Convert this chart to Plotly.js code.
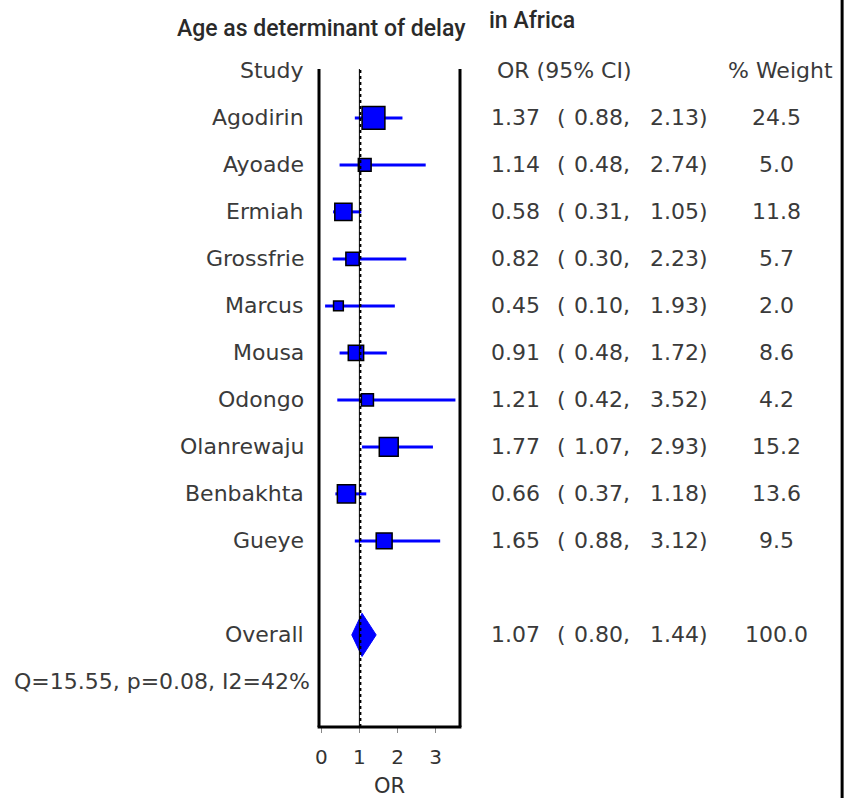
<!DOCTYPE html>
<html>
<head>
<meta charset="utf-8">
<script src="https://cdn.plot.ly/plotly-3.0.1.min.js"></script>
<style>html,body{margin:0;padding:0;background:#fff;}#chart{width:844px;height:798px;}</style>
</head>
<body>
<div id="chart"></div>
<script>
// ---- data ----
const studies = ["Agodirin","Ayoade","Ermiah","Grossfrie","Marcus","Mousa","Odongo","Olanrewaju","Benbakhta","Gueye"];
const orValues = [1.37, 1.14, 0.58, 0.82, 0.45, 0.91, 1.21, 1.77, 0.66, 1.65];
const ciLower  = [0.88, 0.48, 0.31, 0.30, 0.10, 0.48, 0.42, 1.07, 0.37, 0.88];
const ciUpper  = [2.13, 2.74, 1.05, 2.23, 1.93, 1.72, 3.52, 2.93, 1.18, 3.12];
const weights  = [24.5, 5.0, 11.8, 5.7, 2.0, 8.6, 4.2, 15.2, 13.6, 9.5];
const overallLabel = "Overall";
const overallOR = 1.07, overallLower = 0.80, overallUpper = 1.44, overallWeight = 100.0;
const heterogeneity = "Q=15.55, p=0.08, I2=42%";
const xTicks = [0, 1, 2, 3];
const titleMain = "Age as determinant of delay";
const titleSub = "in Africa";

// ---- layout helpers ----
const rowY = i => -(i + 1);          // study rows 1..10
const overallY = -12, hetY = -13;
const txtFont = {family: "DejaVu Sans, Verdana, sans-serif", size: 22, color: "#3a3a3a"};

const ciX = [], ciY = [];
studies.forEach((s, i) => { ciX.push(ciLower[i], ciUpper[i], null); ciY.push(rowY(i), rowY(i), null); });

const traces = [
  {type: "scatter", mode: "lines", x: ciX, y: ciY, line: {color: "#0000ff", width: 3}, hoverinfo: "skip", showlegend: false},
  {type: "scatter", mode: "markers", x: orValues, y: studies.map((s, i) => rowY(i)),
   marker: {symbol: "square", color: "#0000ff", opacity: 1, size: weights.map(w => 4.5 + 3.7 * Math.sqrt(w)), line: {color: "#000", width: 1.5}},
   showlegend: false},
  {type: "scatter", mode: "lines", fill: "toself", fillcolor: "#0000ff",
   x: [overallLower, overallOR, overallUpper, overallOR, overallLower],
   y: [overallY, overallY + 0.46, overallY, overallY - 0.46, overallY],
   line: {color: "#0000ff", width: 1}, showlegend: false}
];

const ann = [];
function addText(text, y, xshift, xanchor, font) {
  ann.push({text: text, xref: "paper", x: 0, xshift: xshift, xanchor: xanchor, yref: "y", y: y, yanchor: "middle",
            showarrow: false, font: font || txtFont});
}
// headers
addText("Study", 0, -13, "right");
addText("OR (95% CI)", 0, 176, "left");
addText("% Weight", 0, 461, "center");
studies.forEach((s, i) => {
  const y = rowY(i);
  addText(s, y, -13, "right");
  addText(orValues[i].toFixed(2), y, 170, "left");
  addText("(", y, 236, "left");
  addText(ciLower[i].toFixed(2) + ",", y, 313, "right");
  addText(ciUpper[i].toFixed(2) + ")", y, 391, "right");
  addText(weights[i].toFixed(1), y, 457, "center");
});
addText(overallLabel, overallY, -13, "right");
addText(overallOR.toFixed(2), overallY, 170, "left");
addText("(", overallY, 236, "left");
addText(overallLower.toFixed(2) + ",", overallY, 313, "right");
addText(overallUpper.toFixed(2) + ")", overallY, 391, "right");
addText(overallWeight.toFixed(1), overallY, 457, "center");
addText(heterogeneity, hetY, -7, "right");

// titles
const titleFont = {family: "Roboto, sans-serif", size: 23, color: "#2a2a2a", weight: 500};
ann.push({text: titleMain, xref: "paper", x: 0, xshift: 2, xanchor: "center", yref: "paper", y: 1, yshift: 41, yanchor: "middle", showarrow: false, font: titleFont});
ann.push({text: titleSub, xref: "paper", x: 0, xshift: 213, xanchor: "center", yref: "paper", y: 1, yshift: 49, yanchor: "middle", showarrow: false, font: titleFont});

const shapes = [
  {type: "line", xref: "paper", yref: "paper", x0: 0, x1: 0, y0: 0, y1: 1, line: {color: "#000", width: 3}},
  {type: "line", xref: "paper", yref: "paper", x0: 1, x1: 1, y0: 0, y1: 1, line: {color: "#000", width: 3}},
  {type: "line", xref: "paper", yref: "paper", x0: -0.01, x1: 1.01, y0: 0, y1: 0, line: {color: "#000", width: 3}},
  {type: "line", xref: "x", yref: "paper", x0: 1, x1: 1, y0: 0, y1: 1, line: {color: "#000", width: 1}},
  {type: "line", xref: "x", xsizemode: "pixel", xanchor: 1, x0: 1, x1: 1, yref: "paper", y0: 0, y1: 1, line: {color: "#000", width: 2, dash: "dot"}},
  {type: "line", xref: "paper", yref: "paper", x0: 3.71, x1: 3.71, y0: -0.12, y1: 1.12, line: {color: "#000", width: 3}}
];

const layout = {
  width: 844, height: 798,
  margin: {l: 319, r: 384, t: 69, b: 71, pad: 0},
  paper_bgcolor: "#fff", plot_bgcolor: "#fff",
  showlegend: false,
  xaxis: {range: [-0.06, 3.64], tickvals: xTicks, ticktext: xTicks.map(String), ticks: "outside", ticklen: 5, tickcolor: "#888",
          tickwidth: 1, showgrid: false, zeroline: false, showline: false, ticklabelstandoff: 7,
          tickfont: {family: "DejaVu Sans, sans-serif", size: 20, color: "#333"},
          title: {text: "OR", font: {family: "DejaVu Sans, sans-serif", size: 21, color: "#333"}, standoff: 10}},
  yaxis: {range: [-13.96, 0.04], showgrid: false, zeroline: false, showline: false, showticklabels: false, ticks: ""},
  annotations: ann,
  shapes: shapes
};

Plotly.newPlot("chart", traces, layout, {displayModeBar: false, staticPlot: true});
</script>
</body>
</html>
